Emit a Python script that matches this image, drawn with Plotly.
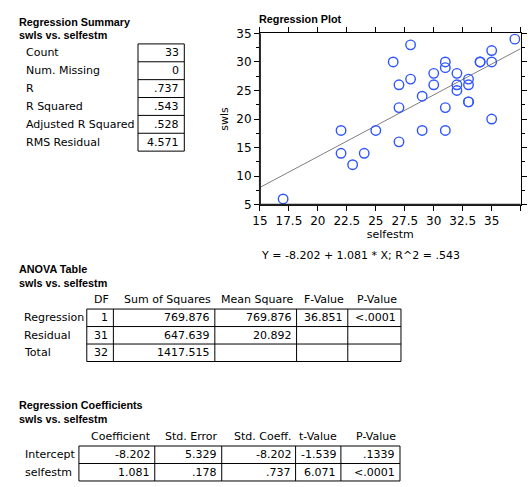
import plotly.graph_objects as go

# ---------------- data ----------------
selfestm = [37, 28, 26.5, 31, 31, 34, 34, 35, 35, 28, 30, 32, 33, 27, 30, 32, 33,
            32, 29, 33, 33, 27, 31, 35, 27, 29, 31, 17, 22, 25, 22, 24, 23]
swls = [34, 33, 30, 30, 29, 30, 30, 30, 32, 27, 28, 28, 27, 26, 26, 26, 26,
        25, 24, 23, 23, 22, 22, 20, 16, 18, 18, 6, 18, 18, 14, 14, 12]
intercept = -8.202
slope = 1.081
r_squared_text = ".543"

x_ticks = [15, 17.5, 20, 22.5, 25, 27.5, 30, 32.5, 35, 37.5]
x_tick_labels = ["15", "17.5", "20", "22.5", "25", "27.5", "30", "32.5", "35", "37.5"]
y_ticks = [5, 10, 15, 20, 25, 30, 35]
y_tick_labels = ["5", "10", "15", "20", "25", "30", "35"]

summary_labels = ["Count", "Num. Missing", "R", "R Squared", "Adjusted R Squared", "RMS Residual"]
summary_values = ["33", "0", ".737", ".543", ".528", "4.571"]

anova_header = ["DF", "Sum of Squares", "Mean Square", "F-Value", "P-Value"]
anova_rows = ["Regression", "Residual", "Total"]
anova_df = ["1", "31", "32"]
anova_ss = ["769.876", "647.639", "1417.515"]
anova_ms = ["769.876", "20.892", ""]
anova_f = ["36.851", "", ""]
anova_p = ["<.0001", "", ""]

coef_header = ["Coefficient", "Std. Error", "Std. Coeff.", "t-Value", "P-Value"]
coef_rows = ["Intercept", "selfestm"]
coef_coefficient = ["-8.202", "1.081"]
coef_std_error = ["5.329", ".178"]
coef_std_coeff = ["-8.202", ".737"]
coef_t_value = ["-1.539", "6.071"]
coef_p_value = [".1339", "<.0001"]

# ---------------- layout helpers (window pixels) ----------------
W, H = 530, 487
FONT = "DejaVu Sans"
BOLD = "Liberation Sans"
TXT = 11
BTXT = 10.8


def X(px):
    return px / W


def Y(py):
    return 1 - py / H


annotations = []
shapes = []


def text(x, y, s, anchor="left", bold=False, size=TXT):
    annotations.append(dict(
        x=X(x), y=Y(y), xref="paper", yref="paper", text=s, showarrow=False,
        xanchor=anchor, yanchor="middle", borderpad=0,
        font=dict(family=BOLD if bold else FONT, size=size, color="black",
                  weight="bold" if bold else "normal")))


def line(x0, y0, x1, y1, w=1, color="black"):
    shapes.append(dict(type="line", xref="paper", yref="paper",
                       x0=X(x0), y0=Y(y0), x1=X(x1), y1=Y(y1),
                       line=dict(color=color, width=w)))


def grid_table(cols, top, row_h, columns, header=None, header_y=None, row_labels=None, label_x=17):
    nrows = len(columns[0])
    bottom = top + row_h * nrows
    for c in cols:
        line(c, top, c, bottom)
    for r in range(nrows + 1):
        line(cols[0], top + r * row_h, cols[-1], top + r * row_h)
    for ci, col in enumerate(columns):
        right = cols[ci + 1] - 4
        if header is not None:
            text(right + 1, header_y, header[ci], anchor="right")
        for ri, v in enumerate(col):
            if v:
                text(right, top + row_h * ri + row_h / 2, v, anchor="right")
    if row_labels:
        for ri, lab in enumerate(row_labels):
            text(label_x, top + row_h * ri + row_h / 2, lab)


# ---------------- Regression Summary ----------------
text(10, 15, "Regression Summary", bold=True, size=BTXT)
text(10, 29, "swls vs. selfestm", bold=True, size=BTXT)
grid_table([132, 179], 38, 18.4, [summary_values], row_labels=summary_labels, label_x=17)

# ---------------- ANOVA table ----------------
text(10, 270, "ANOVA Table", bold=True, size=BTXT)
text(10, 284, "swls vs. selfestm", bold=True, size=BTXT)
grid_table([80, 107, 210, 293, 345, 399], 311, 18,
           [anova_df, anova_ss, anova_ms, anova_f, anova_p],
           header=anova_header, header_y=301, row_labels=anova_rows, label_x=15)

# ---------------- Coefficients table ----------------
text(10, 410, "Regression Coefficients", bold=True, size=BTXT)
text(10, 424, "swls vs. selfestm", bold=True, size=BTXT)
grid_table([72, 149, 217, 292, 338, 398], 452, 18,
           [coef_coefficient, coef_std_error, coef_std_coeff, coef_t_value, coef_p_value],
           header=coef_header, header_y=442, row_labels=coef_rows, label_x=16)

# ---------------- Regression plot ----------------
PL, PR, PT, PB = 255.8, 520.5, 27.2, 203.5
text(254, 12, "Regression Plot", bold=True, size=BTXT)
eq = "Y = %s + %s * X; R^2 = %s" % (f"{intercept:.3f}", f"{slope:.3f}", r_squared_text)
text(256, 256, eq, anchor="left")
# heavier left / bottom frame edges
line(PL, PT, PL, PB, w=2, color="#222222")
line(PL, PB, PR, PB, w=2, color="#222222")

x_min, x_max = x_ticks[0], x_ticks[-1]
fig = go.Figure()
fig.add_trace(go.Scatter(
    x=[x_min, x_max], y=[intercept + slope * x_min, intercept + slope * x_max],
    mode="lines", line=dict(color="#7f7f7f", width=1), hoverinfo="skip"))
fig.add_trace(go.Scatter(
    x=selfestm, y=swls, mode="markers",
    marker=dict(symbol="circle-open", size=9.5, color="#2f55ff", line=dict(width=1.4))))

axis_common = dict(showgrid=False, zeroline=False, showline=True, linecolor="black",
                   linewidth=1, mirror="ticks", ticks="outside", ticklen=5,
                   tickcolor="black", tickfont=dict(family=FONT, size=12, color="black"))

fig.update_xaxes(range=[x_min, x_max], tickvals=x_ticks, ticktext=x_tick_labels,
                 domain=[X(PL), X(PR)],
                 title=dict(text="selfestm", font=dict(family=FONT, size=11, color="black"), standoff=3),
                 **axis_common)
fig.update_yaxes(range=[5, 35], tickvals=y_ticks, ticktext=y_tick_labels,
                 domain=[Y(PB), Y(PT)],
                 minor=dict(dtick=2.5, tick0=5, ticks="outside", ticklen=3, tickcolor="black"),
                 title=dict(text="swls", font=dict(family=FONT, size=11, color="black"), standoff=5),
                 **axis_common)

fig.update_layout(
    width=W, height=H, autosize=False,
    margin=dict(l=0, r=0, t=0, b=0),
    paper_bgcolor="white", plot_bgcolor="white",
    showlegend=False,
    annotations=annotations, shapes=shapes,
)

# remove the page's default 8px body margin so the figure fills the window exactly
fig.write_html("out.html", config={"displayModeBar": False},
               post_script="document.body.style.margin='0';")
